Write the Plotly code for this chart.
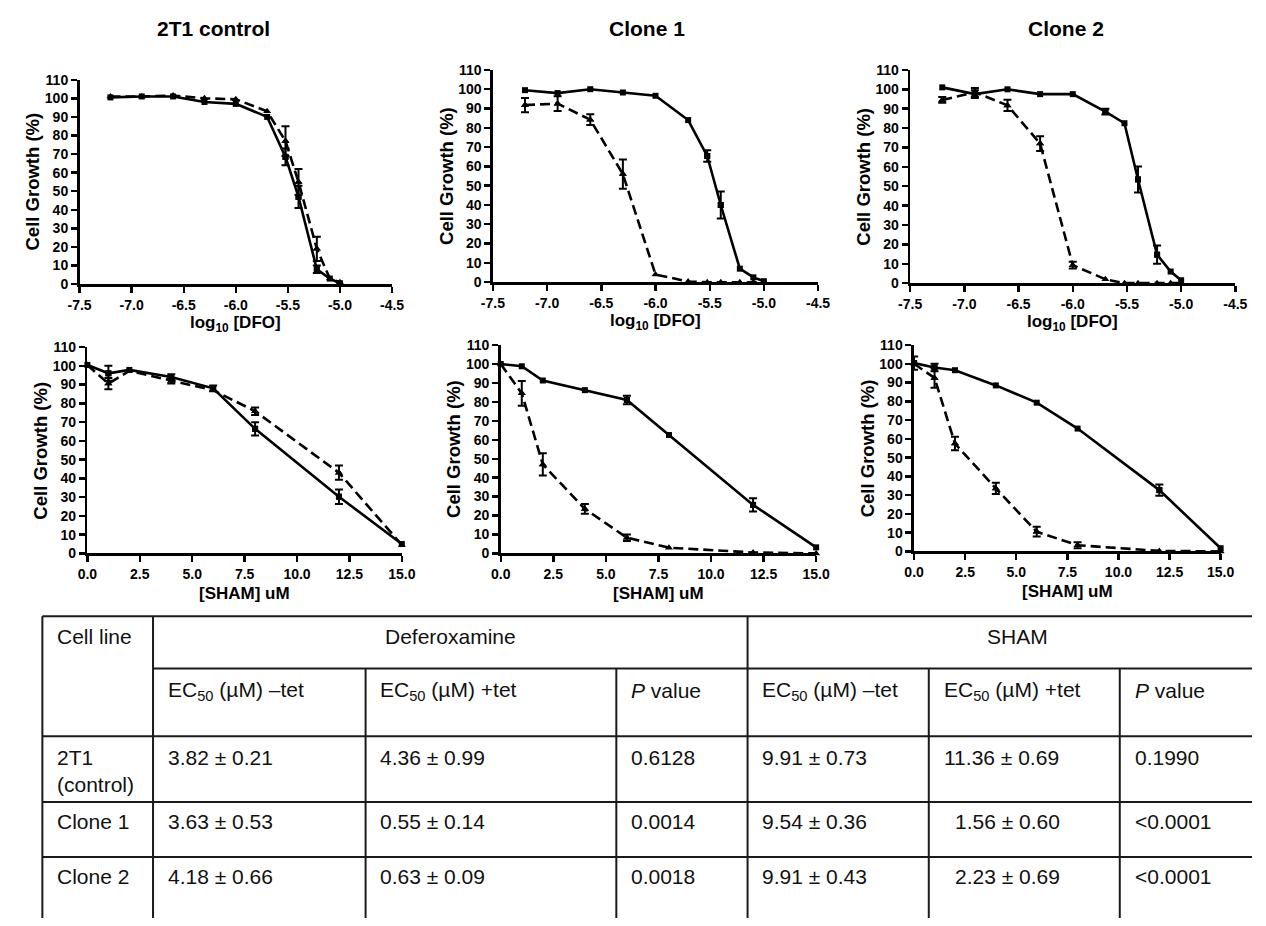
import plotly.graph_objects as go

W, H = 1266, 926
FONT = "Liberation Sans, Arial, Helvetica, sans-serif"

# ---------------- data ----------------
panel_titles = ["2T1 control", "Clone 1", "Clone 2"]

dfo_x = [-7.204, -6.903, -6.602, -6.301, -6.0, -5.699, -5.523, -5.398, -5.222, -5.097, -5.0]
dfo_ticks = [-7.5, -7.0, -6.5, -6.0, -5.5, -5.0, -4.5]
dfo_ticklabels = ["-7.5", "-7.0", "-6.5", "-6.0", "-5.5", "-5.0", "-4.5"]

sham_x = [0, 1, 2, 4, 6, 8, 12, 15]
sham_ticks = [0, 2.5, 5, 7.5, 10, 12.5, 15]
sham_ticklabels = ["0.0", "2.5", "5.0", "7.5", "10.0", "12.5", "15.0"]

growth_ticks = [0, 10, 20, 30, 40, 50, 60, 70, 80, 90, 100, 110]

# DFO, 2T1 control
ctrl_dfo_notet = [100.5, 101, 101, 98, 97, 90, 68.5, 47, 8, 3, 0.5]
ctrl_dfo_notet_err = [0.5, 0.5, 0.5, 0.5, 0.5, 1, 4.5, 6, 2, 0.5, 0.5]
ctrl_dfo_tet = [101, 101, 101.5, 100, 99.5, 93, 77, 55, 19, 3, 1]
ctrl_dfo_tet_err = [0.5, 0.5, 0.5, 0.5, 0.5, 1, 8, 7, 6.5, 0.5, 0.5]

# DFO, Clone 1
c1_dfo_notet = [99.5, 98, 100, 98.3, 96.6, 84, 65.4, 40, 7, 2.5, 0.5]
c1_dfo_notet_err = [0.5, 1, 0.5, 0.5, 0.5, 0.5, 3, 7, 0.5, 0.5, 0]
c1_dfo_tet = [91.8, 92.5, 84.2, 56, 4, 0.3, 0, 0, 0, 0, 0]
c1_dfo_tet_err = [3.7, 3.8, 2.8, 7.6, 0.5, 0, 0, 0, 0, 0, 0]

# DFO, Clone 2
c2_dfo_notet = [101, 97.5, 100, 97.5, 97.5, 88.5, 82.5, 53.5, 14.7, 6, 1.5]
c2_dfo_notet_err = [0.5, 2, 0.5, 0.5, 0.5, 1.5, 0.5, 6.7, 4.7, 0.5, 1]
c2_dfo_tet = [94.5, 98.5, 91.7, 72, 9.3, 2, 0, 0, 0, 0, 0]
c2_dfo_tet_err = [1.5, 2.2, 2.9, 3.8, 1.7, 0.5, 0, 0, 0, 0, 0]

# SHAM, 2T1 control
ctrl_sham_notet = [100.4, 96, 97.8, 94, 88, 66.4, 30.2, 5]
ctrl_sham_notet_err = [0.5, 4, 0.5, 1.5, 1.5, 3.5, 3.9, 0.5]
ctrl_sham_tet = [100.4, 90.5, 97.3, 92, 87, 75.8, 43, 4.5]
ctrl_sham_tet_err = [0.5, 3, 0.5, 1.5, 1, 2, 3.8, 0.5]

# SHAM, Clone 1
c1_sham_notet = [100, 98.8, 91.3, 86.2, 81, 62.5, 25.6, 3.2]
c1_sham_notet_err = [0.5, 0.5, 0.5, 0.5, 2.2, 0.5, 3.5, 0.5]
c1_sham_tet = [100, 84.5, 47, 23.5, 8.3, 3, 0.5, 0]
c1_sham_tet_err = [0.5, 6.5, 5.9, 2.6, 1.7, 0.5, 0, 0]

# SHAM, Clone 2
c2_sham_notet = [100.4, 98, 96.6, 88.5, 79.3, 65.5, 32.7, 1.7]
c2_sham_notet_err = [3.5, 2, 0.5, 0.5, 0.5, 0.5, 3, 0.5]
c2_sham_tet = [100, 92.5, 57.5, 33.6, 10.5, 3.3, 0.3, 0]
c2_sham_tet_err = [0.5, 5.2, 3.6, 3, 2.6, 1.6, 0, 0]

# table
table_groups = ["Deferoxamine", "SHAM"]
table_first_header = "Cell line"
table_subheaders = ["EC<sub>50</sub> (µM) –tet", "EC<sub>50</sub> (µM) +tet", "<i>P</i> value",
                    "EC<sub>50</sub> (µM) –tet", "EC<sub>50</sub> (µM) +tet", "<i>P</i> value"]
table_rows = ["2T1<br>(control)", "Clone 1", "Clone 2"]
dfo_ec50_notet = ["3.82 ± 0.21", "3.63 ± 0.53", "4.18 ± 0.66"]
dfo_ec50_tet = ["4.36 ± 0.99", "0.55 ± 0.14", "0.63 ± 0.09"]
dfo_pvalue = ["0.6128", "0.0014", "0.0018"]
sham_ec50_notet = ["9.91 ± 0.73", "9.54 ± 0.36", "9.91 ± 0.43"]
sham_ec50_tet = ["11.36 ± 0.69", "1.56 ± 0.60", "2.23 ± 0.69"]
sham_pvalue = ["0.1990", "<0.0001", "<0.0001"]


# ---------------- layout helpers (page pixel -> paper fraction) ----------------
def fx(p):
    return p / W


def fy(p):
    return 1 - p / H


# plot boxes in pixels: left, right, top(110), bottom(0)
boxes = [(69, 388, 73, 281), (491, 823, 63, 279), (917, 1249, 63, 280),
         (77, 398, 345, 555), (499, 821, 343, 555), (921, 1234, 343, 553)]

panels = [
    (dfo_x, ctrl_dfo_notet, ctrl_dfo_notet_err, ctrl_dfo_tet, ctrl_dfo_tet_err),
    (dfo_x, c1_dfo_notet, c1_dfo_notet_err, c1_dfo_tet, c1_dfo_tet_err),
    (dfo_x, c2_dfo_notet, c2_dfo_notet_err, c2_dfo_tet, c2_dfo_tet_err),
    (sham_x, ctrl_sham_notet, ctrl_sham_notet_err, ctrl_sham_tet, ctrl_sham_tet_err),
    (sham_x, c1_sham_notet, c1_sham_notet_err, c1_sham_tet, c1_sham_tet_err),
    (sham_x, c2_sham_notet, c2_sham_notet_err, c2_sham_tet, c2_sham_tet_err),
]

fig = go.Figure()


def add_series(idx, x, y, err, dashed):
    xa = "x" if idx == 0 else f"x{idx + 1}"
    ya = "y" if idx == 0 else f"y{idx + 1}"
    line = dict(color="black", width=2.6, dash="10px,5px" if dashed else "solid")
    marker = dict(symbol="triangle-up" if dashed else "square",
                  size=7 if dashed else 6, color="black")
    fig.add_trace(go.Scatter(x=x, y=y, mode="lines+markers", line=line, marker=marker,
                             xaxis=xa, yaxis=ya, cliponaxis=False, showlegend=False))
    keep = [i for i, e in enumerate(err) if e >= 1.4]
    if keep:
        fig.add_trace(go.Scatter(
            x=[x[i] for i in keep], y=[y[i] for i in keep], mode="markers", marker=marker,
            error_y=dict(type="data", array=[err[i] for i in keep], color="black",
                         thickness=2, width=4),
            xaxis=xa, yaxis=ya, cliponaxis=False, showlegend=False))


layout = dict(width=W, height=H, margin=dict(l=0, r=0, t=0, b=0),
              paper_bgcolor="white", plot_bgcolor="white", showlegend=False,
              font=dict(family=FONT, color="black"))

tickfont = dict(family=FONT, size=14, color="black", weight="bold")
annotations = []
shapes = []

for i, (xs, ys1, e1, ys2, e2) in enumerate(panels):
    add_series(i, xs, ys2, e2, True)
    add_series(i, xs, ys1, e1, False)
    l, r, t, b = boxes[i]
    top_row = i < 3
    xname = "xaxis" if i == 0 else f"xaxis{i + 1}"
    yname = "yaxis" if i == 0 else f"yaxis{i + 1}"
    common = dict(showline=True, linecolor="black", linewidth=2.6, ticks="outside",
                  ticklen=6, tickwidth=2.4, tickcolor="black", tickfont=tickfont,
                  showgrid=False, zeroline=False, fixedrange=True)
    layout[xname] = dict(domain=[fx(l), fx(r)],
                         range=[-7.5, -4.5] if top_row else [0, 15],
                         tickmode="array",
                         tickvals=dfo_ticks if top_row else sham_ticks,
                         ticktext=dfo_ticklabels if top_row else sham_ticklabels,
                         anchor="y" if i == 0 else f"y{i + 1}", **common)
    layout[yname] = dict(domain=[fy(b), fy(t)], range=[0, 110], tickmode="array",
                         tickvals=growth_ticks, ticktext=[str(v) for v in growth_ticks],
                         anchor="x" if i == 0 else f"x{i + 1}", **common)
    annotations.append(dict(
        x=fx(l - 48), y=fy((t + b) / 2), xref="paper", yref="paper",
        text="<b>Cell Growth (%)</b>", textangle=-90, showarrow=False,
        xanchor="center", yanchor="middle", font=dict(family=FONT, size=18.5, color="black")))
    annotations.append(dict(
        x=fx((l + r) / 2), y=fy(b + 41), xref="paper", yref="paper",
        text="<b>log<sub>10</sub> [DFO]</b>" if top_row else "<b>[SHAM] uM</b>",
        showarrow=False, xanchor="center", yanchor="middle",
        font=dict(family=FONT, size=17, color="black")))

for title, cx in zip(panel_titles, [206, 648, 1076]):
    annotations.append(dict(x=fx(cx), y=fy(21), xref="paper", yref="paper",
                            text=f"<b>{title}</b>", showarrow=False,
                            xanchor="center", yanchor="middle",
                            font=dict(family=FONT, size=21, color="black")))

# ---------------- table ----------------
LC = "#1a1a1a"
LW = 2
tl, tr = 31, W
col = [31, 144, 361, 617, 751, 936, 1131]
row = [619, 672, 741, 808, 864, H]


def hline(x0, x1, y):
    shapes.append(dict(type="line", xref="paper", yref="paper", x0=fx(x0), x1=fx(x1),
                       y0=fy(y), y1=fy(y), line=dict(color=LC, width=LW)))


def vline(x, y0, y1):
    shapes.append(dict(type="line", xref="paper", yref="paper", x0=fx(x), x1=fx(x),
                       y0=fy(y0), y1=fy(y1), line=dict(color=LC, width=LW)))


hline(tl, tr, row[0])
hline(col[1], tr, row[1])
for y in row[2:5]:
    hline(tl, tr, y)
vline(col[0], row[0], row[5])
vline(col[1], row[0], row[5])
vline(col[4], row[0], row[5])
for c in (col[2], col[3], col[5], col[6]):
    vline(c, row[1], row[5])

TF = dict(family=FONT, size=21, color="#111111")


def cell_text(x, y, text, anchor="left"):
    annotations.append(dict(x=fx(x), y=fy(y), xref="paper", yref="paper", text=text,
                            showarrow=False, xanchor=anchor, yanchor="middle", font=TF,
                            align="left" if anchor == "left" else "center"))


def esc(s):
    return s.replace("<", "&lt;")


cell_text(col[0] + 13, 640, table_first_header)
cell_text((col[1] + col[4]) / 2, 640, table_groups[0], "center")
cell_text(1027, 640, table_groups[1], "center")
for j, h in enumerate(table_subheaders):
    cell_text(col[j + 1] + 13, 695, h)

row_y = [776, 828, 884]
columns = [dfo_ec50_notet, dfo_ec50_tet, dfo_pvalue, sham_ec50_notet, sham_ec50_tet, sham_pvalue]
for r_i, name in enumerate(table_rows):
    cell_text(col[0] + 13, row_y[r_i], name)
    first_line_y = 763 if r_i == 0 else row_y[r_i]
    for c_i, vals in enumerate(columns):
        v = vals[r_i]
        x0 = col[c_i + 1] + 13
        if c_i == 4 and not v.startswith("11"):
            x0 += 12
        cell_text(x0, first_line_y, esc(v))

layout["annotations"] = annotations
layout["shapes"] = shapes
fig.update_layout(**layout)
fig.write_html(
    "out.html",
    config={"displayModeBar": False, "staticPlot": True},
    post_script="document.body.style.margin='0';document.body.style.overflow='hidden';",
)
